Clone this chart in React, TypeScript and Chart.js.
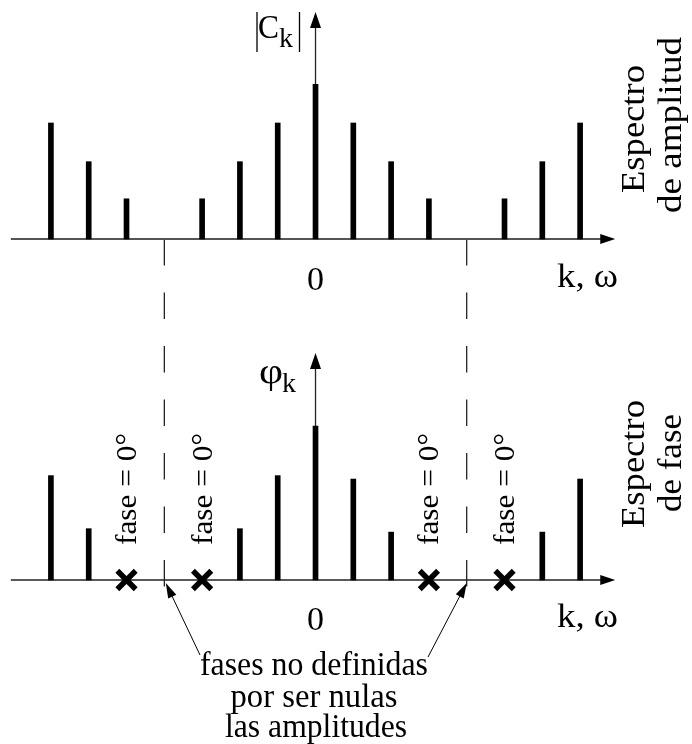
import React, { useEffect, useRef } from "react";
import { Chart, registerables } from "chart.js";

Chart.register(...registerables);

// ---- data ----
const kValues = [-7, -6, -5, -4, -3, -2, -1, 0, 1, 2, 3, 4, 5, 6, 7];
const amplitude = [0.75, 0.5, 0.26, 0, 0.26, 0.5, 0.75, 1, 0.75, 0.5, 0.26, 0, 0.26, 0.5, 0.75];
// phase in degrees; null where the phase is zero or undefined
const phase = [61, 30, null, null, null, 30, 61, 90, 59, 28, null, null, null, 28, 59];
const zeroPhaseK = [-5, -3, 3, 5];
const undefinedPhaseK = [-4, 4];

const ampData = kValues
  .map((k, i) => ({ x: k, y: amplitude[i] }))
  .filter((p) => p.y > 0);
const phaseData = kValues
  .map((k, i) => ({ x: k, y: phase[i] }))
  .filter((p) => p.y !== null && (p.y as number) > 0);
const zeroData = zeroPhaseK.map((k) => ({ x: k, y: 0 }));

const FONT = '"Liberation Serif", "DejaVu Serif", serif';

function txt(
  ctx: CanvasRenderingContext2D,
  s: string,
  x: number,
  y: number,
  size: number,
  opts: { align?: CanvasTextAlign; rot?: number; width?: number } = {}
) {
  ctx.save();
  ctx.font = `${size}px ${FONT}`;
  ctx.fillStyle = "#000";
  ctx.textAlign = opts.align ?? "center";
  ctx.textBaseline = "alphabetic";
  ctx.translate(x, y);
  if (opts.rot) ctx.rotate(opts.rot);
  if (opts.width) {
    const w = ctx.measureText(s).width;
    ctx.scale(opts.width / w, 1);
  }
  ctx.fillText(s, 0, 0);
  ctx.restore();
}

function arrowHead(
  ctx: CanvasRenderingContext2D,
  tx: number,
  ty: number,
  fx: number,
  fy: number,
  len: number,
  half: number
) {
  const a = Math.atan2(ty - fy, tx - fx);
  ctx.beginPath();
  ctx.moveTo(tx, ty);
  ctx.lineTo(tx - len * Math.cos(a) + half * Math.sin(a), ty - len * Math.sin(a) - half * Math.cos(a));
  ctx.lineTo(tx - len * Math.cos(a) - half * Math.sin(a), ty - len * Math.sin(a) + half * Math.cos(a));
  ctx.closePath();
  ctx.fill();
}

const X_AXIS_START = -8.06;
const X_AXIS_END = 7.93;
const AMP_AXIS_TOP = 1.467;
const PHASE_AXIS_TOP = 132.7;
const DASH_END = -4.7;

const decor = {
  id: "decor",
  beforeDatasetsDraw(chart: any) {
    const ctx: CanvasRenderingContext2D = chart.ctx;
    const { x, yA, yP } = chart.scales;
    ctx.save();
    // dashed lines where amplitudes are null
    ctx.strokeStyle = "#111";
    ctx.lineWidth = 1.2;
    ctx.setLineDash([26.5, 27]);
    for (const k of undefinedPhaseK) {
      const px = x.getPixelForValue(k);
      ctx.beginPath();
      ctx.moveTo(px, yA.getPixelForValue(0));
      ctx.lineTo(px, yP.getPixelForValue(DASH_END));
      ctx.stroke();
    }
    ctx.setLineDash([]);

    // horizontal axes
    const x0 = x.getPixelForValue(X_AXIS_START);
    const x1 = x.getPixelForValue(X_AXIS_END);
    const axes: [any, string, number][] = [
      [yA, "#555", 2],
      [yP, "#222", 1.4],
    ];
    for (const [sc, col, lw] of axes) {
      const py = sc.getPixelForValue(0);
      ctx.strokeStyle = col;
      ctx.lineWidth = lw;
      ctx.beginPath();
      ctx.moveTo(x0, py);
      ctx.lineTo(x1 - 10, py);
      ctx.stroke();
      ctx.fillStyle = "#000";
      arrowHead(ctx, x1, py, x0, py, 15, 5);
    }
    // vertical axes
    const cx = x.getPixelForValue(0);
    const vert: [any, number][] = [
      [yA, AMP_AXIS_TOP],
      [yP, PHASE_AXIS_TOP],
    ];
    for (const [sc, top] of vert) {
      const y0 = sc.getPixelForValue(0);
      const yt = sc.getPixelForValue(top);
      ctx.strokeStyle = "#222";
      ctx.lineWidth = 1.3;
      ctx.beginPath();
      ctx.moveTo(cx, y0);
      ctx.lineTo(cx, yt + 10);
      ctx.stroke();
      ctx.fillStyle = "#000";
      arrowHead(ctx, cx, yt, cx, y0, 16, 5.5);
    }
    ctx.restore();
  },
  afterDraw(chart: any) {
    const ctx: CanvasRenderingContext2D = chart.ctx;
    const { x, yA, yP } = chart.scales;
    const cx = x.getPixelForValue(0);
    ctx.save();

    // |C_k|
    ctx.strokeStyle = "#000";
    ctx.lineWidth = 1.3;
    ctx.beginPath();
    ctx.moveTo(257, 12);
    ctx.lineTo(257, 52);
    ctx.moveTo(299.5, 12);
    ctx.lineTo(299.5, 52);
    ctx.stroke();
    txt(ctx, "C", 258, 38, 34, { align: "left", width: 21 });
    txt(ctx, "k", 279, 47, 28, { align: "left" });

    // φ_k
    txt(ctx, "φ", 259, 383, 36, { align: "left", width: 24 });
    txt(ctx, "k", 282, 392, 28, { align: "left" });

    // zero labels and axis names
    const yA0 = yA.getPixelForValue(0);
    const yP0 = yP.getPixelForValue(0);
    txt(ctx, "0", cx, yA0 + 51, 34);
    txt(ctx, "0", cx, yP0 + 50, 34);
    txt(ctx, "k, ω", 557, yA0 + 48, 33, { align: "left", width: 61 });
    txt(ctx, "k, ω", 557, yP0 + 47, 33, { align: "left", width: 61 });

    // right-side titles
    const R = -Math.PI / 2;
    txt(ctx, "Espectro", 644, 129, 34, { rot: R, width: 128 });
    txt(ctx, "de amplitud", 681, 125, 34, { rot: R, width: 176 });
    txt(ctx, "Espectro", 644, 464, 34, { rot: R, width: 128 });
    txt(ctx, "de fase", 681, 463, 34, { rot: R, width: 98 });

    // fase = 0° labels
    for (const k of zeroPhaseK) {
      txt(ctx, "fase = 0°", x.getPixelForValue(k) + 9.5, 489, 30, { rot: R, width: 112 });
    }

    // note
    txt(ctx, "fases no definidas", 314, 675, 33, { width: 228 });
    txt(ctx, "por ser nulas", 314, 707, 33, { width: 167 });
    txt(ctx, "las amplitudes", 316, 737, 33, { width: 182 });

    // arrows from the note to the undefined phases
    ctx.strokeStyle = "#000";
    ctx.fillStyle = "#000";
    ctx.lineWidth = 1;
    const starts: [number, number][] = [
      [200, 655],
      [428, 657],
    ];
    undefinedPhaseK.forEach((k, i) => {
      const tx = x.getPixelForValue(k) + (k < 0 ? 1.5 : 0);
      const ty = yP0 + 3;
      const [sx, sy] = starts[i];
      ctx.beginPath();
      ctx.moveTo(sx, sy);
      const a = Math.atan2(ty - sy, tx - sx);
      ctx.lineTo(tx - 10 * Math.cos(a), ty - 10 * Math.sin(a));
      ctx.stroke();
      arrowHead(ctx, tx, ty, sx, sy, 15, 4.5);
    });
    ctx.restore();
  },
};

export default function App() {
  const ref = useRef<HTMLCanvasElement>(null);
  useEffect(() => {
    document.body.style.margin = "0";
    const canvas = ref.current!;
    const chart = new Chart(canvas, {
      type: "bar",
      data: {
        datasets: [
          {
            type: "bar",
            label: "|Ck|",
            data: ampData as any,
            yAxisID: "yA",
            backgroundColor: "#000",
            borderWidth: 0,
            barThickness: 5,
            grouped: false,
          } as any,
          {
            type: "bar",
            label: "φk",
            data: phaseData as any,
            yAxisID: "yP",
            backgroundColor: "#000",
            borderWidth: 0,
            barThickness: 5,
            grouped: false,
          } as any,
          {
            type: "scatter",
            label: "fase = 0°",
            data: zeroData as any,
            yAxisID: "yP",
            pointStyle: "crossRot",
            pointRadius: 13,
            pointBorderWidth: 5.5,
            borderColor: "#000",
            backgroundColor: "#000",
            showLine: false,
            clip: false,
          } as any,
        ],
      },
      options: {
        responsive: false,
        animation: false,
        devicePixelRatio: 1,
        events: [],
        layout: { padding: 0, autoPadding: false },
        plugins: { legend: { display: false }, tooltip: { enabled: false } },
        scales: {
          x: { type: "linear", min: -8.347, max: 9.96, display: false, offset: false },
          yA: { type: "linear", min: -3.264, max: 1.545, display: false, position: "left" },
          yP: { type: "linear", min: -95.84, max: 338.96, display: false, position: "left" },
        },
      } as any,
      plugins: [decor],
    });
    return () => chart.destroy();
  }, []);
  return <canvas ref={ref} width={692} height={744} style={{ display: "block" }} />;
}
